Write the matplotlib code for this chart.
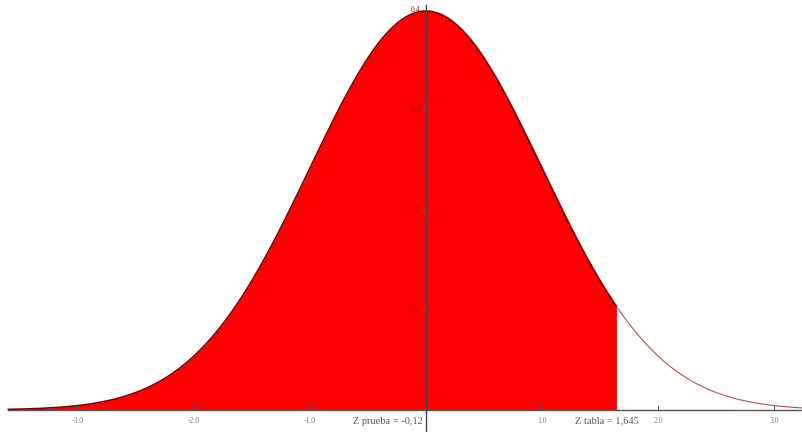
import numpy as np
import matplotlib
matplotlib.use("Agg")
import matplotlib.pyplot as plt

# parámetros de la distribución normal estándar
mu = 0.0
sigma = 1.0
z_prueba = -0.12
z_tabla = 1.645

x_ticks = [-3.0, -2.0, -1.0, 1.0, 2.0, 3.0]
x_tick_labels = ["-3.0", "-2.0", "-1.0", "1.0", "2.0", "3.0"]
y_ticks = [0.1, 0.2, 0.3, 0.4]
y_tick_labels = ["0.1", "0.2", "0.3", "0.4"]

label_prueba = "Z prueba = -0,12"
label_tabla = "Z tabla = 1,645"

x_min, x_max = -3.6, 3.24

# curva normal
x = np.linspace(x_min, x_max, 600)
y = np.exp(-0.5 * ((x - mu) / sigma) ** 2) / (sigma * np.sqrt(2 * np.pi))

fig = plt.figure(figsize=(8.02, 4.32), dpi=100)
ax = fig.add_axes([0, 0, 1, 1])
ax.set_xlim(-3.672, 3.241)
ax.set_ylim(-0.022, 0.41)
ax.axis("off")

# área sombreada hasta z tabla
mask = x <= z_tabla
ax.fill_between(x[mask], 0, y[mask], color="#ff0000", lw=0, zorder=2)
ax.plot(x[mask], y[mask], color="#7a0000", lw=1.2, zorder=3)
ax.plot(x[~mask], y[~mask], color="#b05050", lw=0.8, zorder=3)

# ejes
ax.plot([x_min, x_max], [0, 0], color="#555555", lw=1.0, zorder=4)
ax.plot([0, 0], [-0.03, 0.405], color="#444444", lw=1.0, zorder=4)

for t, lab in zip(x_ticks, x_tick_labels):
    ax.plot([t, t], [0, 0.004], color="#555555", lw=0.8, zorder=4)
    ax.text(t, -0.011, lab, ha="center", va="center", fontsize=5.5,
            color="#777777", family="Liberation Serif")

for t, lab in zip(y_ticks, y_tick_labels):
    ax.plot([-0.03, 0], [t, t], color="#555555", lw=0.8, zorder=4)
    ax.text(-0.05, t, lab, ha="right", va="center", fontsize=5.5,
            color="#8a1010", family="Liberation Serif", zorder=5)

ax.text(-0.03, -0.011, label_prueba, ha="right", va="center", fontsize=7.5,
        color="#555555", family="Liberation Serif")
ax.text(1.56, -0.011, label_tabla, ha="center", va="center", fontsize=7.5,
        color="#555555", family="Liberation Serif")

fig.savefig("out.png", dpi=100)
